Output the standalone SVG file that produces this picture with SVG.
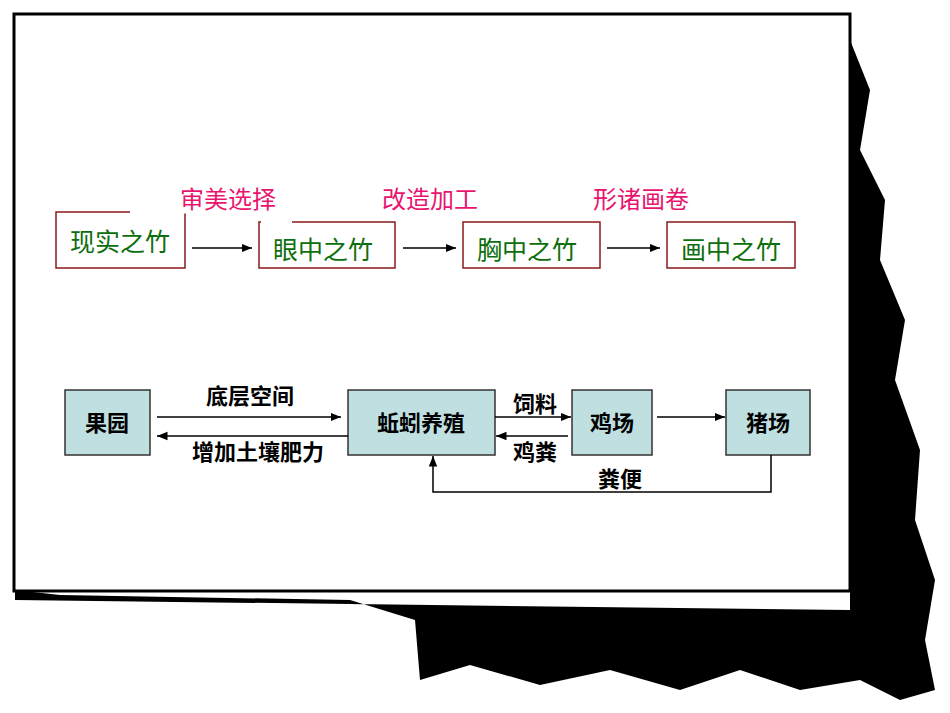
<svg xmlns="http://www.w3.org/2000/svg" width="950" height="713" viewBox="0 0 950 713">
<defs>
<marker id="a" viewBox="0 0 10 10" refX="10" refY="5" markerWidth="7" markerHeight="7" orient="auto"><path d="M0,1 L10,5 L0,9 z" fill="#000"/></marker>
<style>
.g{font-family:"Liberation Sans","Noto Sans CJK SC",sans-serif;font-size:25px;fill:#0c6e0c;text-anchor:middle}
.m{font-family:"Liberation Sans","Noto Sans CJK SC",sans-serif;font-size:24px;fill:#e8146e;text-anchor:middle}
.b{font-family:"Liberation Sans","Noto Sans CJK SC",sans-serif;font-size:22px;font-weight:bold;fill:#000;text-anchor:middle}
.rb{fill:#fff;stroke:#8b1a1a;stroke-width:1.5}
.tb{fill:#bfdfe0;stroke:#333;stroke-width:1.5}
.l{stroke:#000;stroke-width:1.5;fill:none}
</style>
</defs>
<rect width="950" height="713" fill="#fff"/>
<path d="M850,40 L870,90 L860,150 L885,200 L880,260 L905,320 L895,380 L920,450 L915,520 L935,580 L925,640 L935,690 L900,700 L860,680 L800,690 L740,670 L680,690 L610,670 L540,685 L470,665 L420,680 L415,620 L350,600 L60,595 L15,590 L15,600 L850,610 Z" fill="#000"/>
<rect x="14" y="14" width="836" height="577" fill="#fff" stroke="#000" stroke-width="3"/>
<g id="n1"><rect class="rb" x="56" y="212" width="129" height="56"/><path d="M130,212 H190" stroke="#fff" stroke-width="3"/><text class="g" x="120" y="251">现实之竹</text></g>
<g id="n2"><rect class="rb" x="259" y="222" width="136" height="46"/><path d="M261,222 H292" stroke="#fff" stroke-width="3"/><text class="g" x="323" y="259">眼中之竹</text></g>
<g id="n3"><rect class="rb" x="463" y="222" width="137" height="46"/><text class="g" x="527" y="259">胸中之竹</text></g>
<g id="n4"><rect class="rb" x="667" y="222" width="128" height="46"/><text class="g" x="731" y="259">画中之竹</text></g>
<text class="m" x="228" y="208">审美选择</text>
<text class="m" x="430" y="208">改造加工</text>
<text class="m" x="641" y="208">形诸画卷</text>
<g id="b1"><rect class="tb" x="65" y="390" width="85" height="65"/><text class="b" x="107" y="431">果园</text></g>
<g id="b2"><rect class="tb" x="348" y="390" width="147" height="65"/><text class="b" x="421" y="431">蚯蚓养殖</text></g>
<g id="b3"><rect class="tb" x="572" y="390" width="80" height="65"/><text class="b" x="612" y="431">鸡场</text></g>
<g id="b4"><rect class="tb" x="726" y="390" width="84" height="65"/><text class="b" x="768" y="431">猪场</text></g>
<g id="connectors">
<path class="l" d="M192,248 H252" marker-end="url(#a)"/>
<path class="l" d="M403,248 H456" marker-end="url(#a)"/>
<path class="l" d="M607,248 H660" marker-end="url(#a)"/>
<path class="l" d="M157,417 H341" marker-end="url(#a)"/>
<path class="l" d="M348,436 H157" marker-end="url(#a)"/>
<path class="l" d="M495,417 H571" marker-end="url(#a)"/>
<path class="l" d="M568,436 H496" marker-end="url(#a)"/>
<path class="l" d="M657,417 H725" marker-end="url(#a)"/>
<path class="l" d="M771,455 V492 H433 V456" marker-end="url(#a)"/>
</g>
<text class="b" x="250" y="404">底层空间</text>
<text class="b" x="258" y="460">增加土壤肥力</text>
<text class="b" x="535" y="412">饲料</text>
<text class="b" x="535" y="460">鸡粪</text>
<text class="b" x="620" y="487">粪便</text>
</svg>
